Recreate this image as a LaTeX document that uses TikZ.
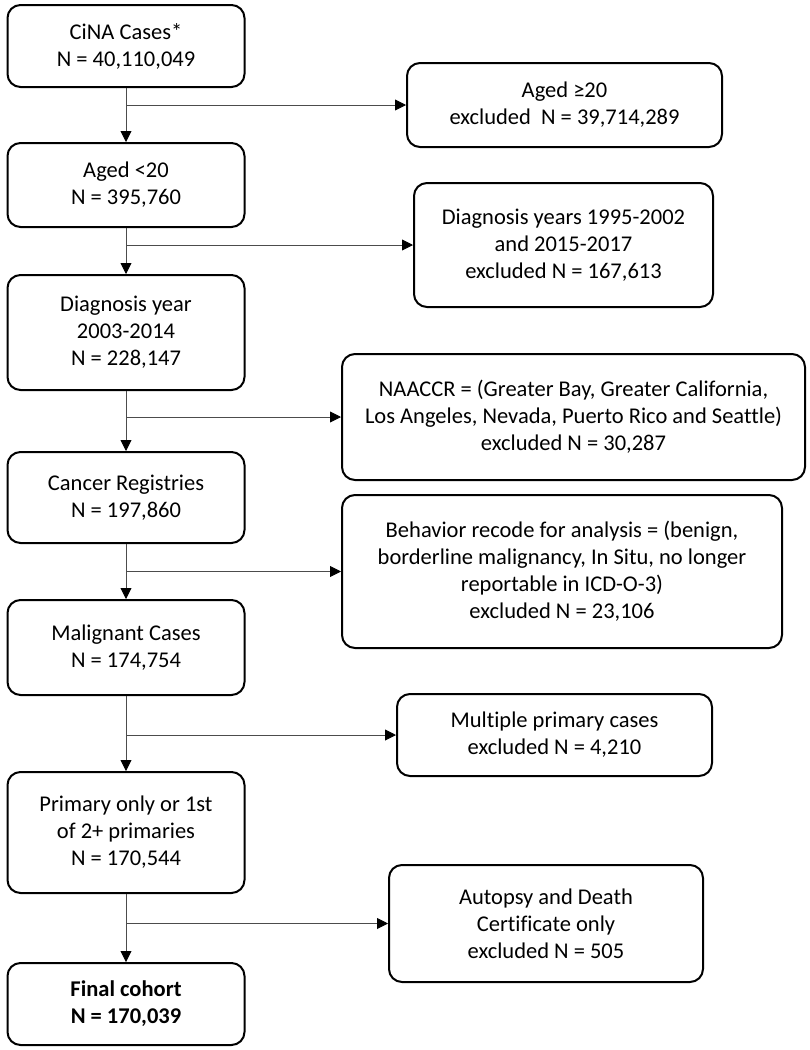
\documentclass[tikz,border=0pt]{standalone}
\usepackage{fontspec}
\setmainfont[Ligatures=NoCommon]{Carlito}
\usetikzlibrary{arrows.meta}
\begin{document}
\begin{tikzpicture}[x=1pt,y=-1pt,
  box/.style={draw=black, line width=2pt, rounded corners=13pt, align=center,
    inner sep=0pt, font=\fontsize{22.5}{27}\selectfont},
  conn/.style={draw=black!70, line width=0.9pt, -{Triangle[length=11pt,width=11pt,fill=black,color=black]}}]
\useasboundingbox (0,0) rectangle (810,1050);
% main column
\node[box, minimum width=237pt, minimum height=82pt] (b1) at (126,46) {CiNA Cases*\\N = 40,110,049};
\node[box, minimum width=237pt, minimum height=84pt] (b2) at (126,185) {Aged <20\\N = 395,760};
\node[box, minimum width=237pt, minimum height=115pt] (b3) at (126,332.5) {Diagnosis year\\2003-2014\\N = 228,147};
\node[box, minimum width=237pt, minimum height=91pt] (b4) at (126,497.5) {Cancer Registries\\N = 197,860};
\node[box, minimum width=237pt, minimum height=95pt] (b5) at (126,647.5) {Malignant Cases\\N = 174,754};
\node[box, minimum width=237pt, minimum height=121pt] (b6) at (126,832.5) {Primary only or 1st\\of 2+ primaries\\N = 170,544};
\node[box, minimum width=237pt, minimum height=82pt] (b7) at (126,1004) {\textbf{Final cohort}\\\textbf{N = 170,039}};
% exclusion boxes
\node[box, minimum width=315pt, minimum height=84pt] (r1) at (564.5,105) {Aged ≥20\\excluded\ \ N = 39,714,289};
\node[box, minimum width=299pt, minimum height=124pt] (r2) at (563.5,245) {Diagnosis years 1995-2002\\and 2015-2017\\excluded N = 167,613};
\node[box, minimum width=463pt, minimum height=126pt] (r3) at (573.5,417) {NAACCR = (Greater Bay, Greater California,\\Los Angeles, Nevada, Puerto Rico and Seattle)\\excluded N = 30,287};
\node[box, minimum width=440pt, minimum height=153pt] (r4) at (562,571.5) {Behavior recode for analysis = (benign,\\borderline malignancy, In Situ, no longer\\reportable in ICD-O-3)\\excluded N = 23,106};
\node[box, minimum width=315pt, minimum height=82pt] (r5) at (554.5,735) {Multiple primary cases\\excluded N = 4,210};
\node[box, minimum width=314pt, minimum height=117pt] (r6) at (546,923.5) {Autopsy and Death\\Certificate only\\excluded N = 505};
% connectors
\foreach \a/\b in {b1/b2,b2/b3,b3/b4,b4/b5,b5/b6,b6/b7} \draw[conn] (\a.south) -- (\b.north);
\foreach \a/\r in {b1/r1,b2/r2,b3/r3,b4/r4,b5/r5,b6/r6} \draw[conn] (\a.south |- \r.west) -- (\r.west);
\end{tikzpicture}
\end{document}
